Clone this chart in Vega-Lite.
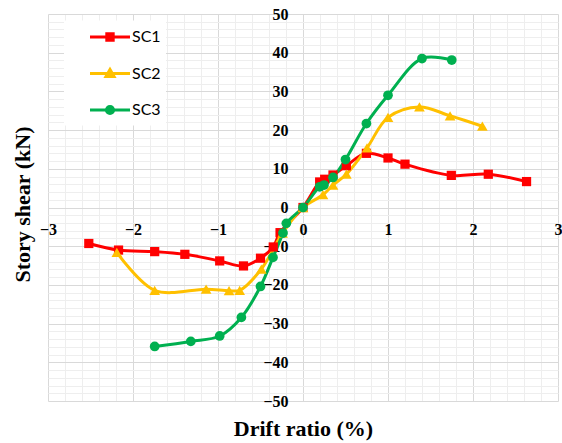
{
  "$schema": "https://vega.github.io/schema/vega-lite/v6.json",
  "width": 510,
  "height": 387,
  "autosize": {"type": "none"},
  "padding": {"left": 48, "top": 14, "right": 4, "bottom": 42},
  "background": "white",
  "config": {"view": {"stroke": null}},
  "data": {
    "values": [
      {"series": "SC1", "drift": -2.52, "shear": -9.3},
      {"series": "SC1", "drift": -2.17, "shear": -11.0},
      {"series": "SC1", "drift": -1.745, "shear": -11.4},
      {"series": "SC1", "drift": -1.39, "shear": -12.1},
      {"series": "SC1", "drift": -0.98, "shear": -13.8},
      {"series": "SC1", "drift": -0.7, "shear": -15.1},
      {"series": "SC1", "drift": -0.5, "shear": -13.1},
      {"series": "SC1", "drift": -0.35, "shear": -10.2},
      {"series": "SC1", "drift": -0.27, "shear": -6.5},
      {"series": "SC1", "drift": 0, "shear": 0},
      {"series": "SC1", "drift": 0.196, "shear": 6.6},
      {"series": "SC1", "drift": 0.255, "shear": 7.3},
      {"series": "SC1", "drift": 0.353, "shear": 8.4},
      {"series": "SC1", "drift": 0.51, "shear": 10.8},
      {"series": "SC1", "drift": 0.746, "shear": 14.0},
      {"series": "SC1", "drift": 1.0, "shear": 12.8},
      {"series": "SC1", "drift": 1.2, "shear": 11.2},
      {"series": "SC1", "drift": 1.745, "shear": 8.3},
      {"series": "SC1", "drift": 2.18, "shear": 8.6},
      {"series": "SC1", "drift": 2.63, "shear": 6.7},
      {"series": "SC2", "drift": -2.19, "shear": -11.6},
      {"series": "SC2", "drift": -1.745, "shear": -21.4},
      {"series": "SC2", "drift": -1.14, "shear": -21.1},
      {"series": "SC2", "drift": -0.87, "shear": -21.5},
      {"series": "SC2", "drift": -0.745, "shear": -21.4},
      {"series": "SC2", "drift": -0.49, "shear": -15.9},
      {"series": "SC2", "drift": -0.24, "shear": -6.6},
      {"series": "SC2", "drift": 0, "shear": 0},
      {"series": "SC2", "drift": 0.235, "shear": 3.3},
      {"series": "SC2", "drift": 0.353, "shear": 5.8},
      {"series": "SC2", "drift": 0.51, "shear": 8.6},
      {"series": "SC2", "drift": 0.753, "shear": 15.4},
      {"series": "SC2", "drift": 1.0, "shear": 23.3},
      {"series": "SC2", "drift": 1.37, "shear": 26.0},
      {"series": "SC2", "drift": 1.73, "shear": 23.7},
      {"series": "SC2", "drift": 2.11, "shear": 21.0},
      {"series": "SC3", "drift": -1.745, "shear": -35.9},
      {"series": "SC3", "drift": -1.32, "shear": -34.6},
      {"series": "SC3", "drift": -0.98, "shear": -33.2},
      {"series": "SC3", "drift": -0.725, "shear": -28.4},
      {"series": "SC3", "drift": -0.5, "shear": -20.4},
      {"series": "SC3", "drift": -0.353, "shear": -12.9},
      {"series": "SC3", "drift": -0.235, "shear": -6.6},
      {"series": "SC3", "drift": -0.196, "shear": -4.1},
      {"series": "SC3", "drift": 0, "shear": 0},
      {"series": "SC3", "drift": 0.196, "shear": 5.35},
      {"series": "SC3", "drift": 0.247, "shear": 5.8},
      {"series": "SC3", "drift": 0.353, "shear": 7.76},
      {"series": "SC3", "drift": 0.5, "shear": 12.4},
      {"series": "SC3", "drift": 0.746, "shear": 21.7},
      {"series": "SC3", "drift": 1.0, "shear": 29.0},
      {"series": "SC3", "drift": 1.4, "shear": 38.5},
      {"series": "SC3", "drift": 1.75, "shear": 38.1}
    ]
  },
  "layer": [
    {
      "mark": {"type": "line", "interpolate": "catmull-rom", "strokeWidth": 3},
      "encoding": {
        "x": {
          "field": "drift", "type": "quantitative",
          "scale": {"domain": [-3, 3], "nice": false, "zero": false},
          "axis": {
            "orient": "bottom",
            "values": [-2.8, -2.6, -2.4, -2.2, -1.8, -1.6, -1.4, -1.2, -0.8, -0.6, -0.4, -0.2, 0.2, 0.4, 0.6, 0.8, 1.2, 1.4, 1.6, 1.8, 2.2, 2.4, 2.6, 2.8],
            "grid": true, "gridColor": "#eeeeee", "gridWidth": 1,
            "labels": false, "ticks": false, "domain": false, "title": null
          }
        },
        "y": {
          "field": "shear", "type": "quantitative",
          "scale": {"domain": [-50, 50], "nice": false, "zero": false},
          "axis": {
            "orient": "left",
            "values": [-48, -46, -44, -42, -38, -36, -34, -32, -28, -26, -24, -22, -18, -16, -14, -12, -8, -6, -4, -2, 2, 4, 6, 8, 12, 14, 16, 18, 22, 24, 26, 28, 32, 34, 36, 38, 42, 44, 46, 48],
            "grid": true, "gridColor": "#eeeeee", "gridWidth": 1,
            "labels": false, "ticks": false, "domain": false, "title": null
          }
        },
        "color": {
          "field": "series", "type": "nominal",
          "scale": {"domain": ["SC3", "SC1", "SC2"], "range": ["#00B050", "#FF0000", "#FFC000"]},
          "legend": null
        }
      }
    },
    {
      "mark": {"type": "point", "filled": true, "opacity": 1, "strokeWidth": 0, "shape": "square", "size": 85},
      "transform": [{"filter": "datum.series === 'SC1'"}],
      "encoding": {
        "x": {
          "field": "drift", "type": "quantitative",
          "axis": {
            "orient": "bottom", "offset": -193.5,
            "values": [-3, -2, -1, 0, 1, 2, 3],
            "grid": true, "gridColor": "#d9d9d9", "gridWidth": 1,
            "domain": false, "ticks": false,
            "labelFont": "Liberation Serif", "labelFontWeight": "bold", "labelFontSize": 16, "labelColor": "black",
            "labelPadding": 14, "labelFlush": false, "labelOverlap": false,
            "title": "Drift ratio (%)",
            "titleFont": "Liberation Serif", "titleFontWeight": "bold", "titleFontSize": 22, "titleColor": "black",
            "titleY": 220.5, "titleBaseline": "middle"
          }
        },
        "y": {
          "field": "shear", "type": "quantitative",
          "axis": {
            "orient": "left", "offset": -255,
            "values": [-50, -40, -30, -20, -10, 0, 10, 20, 30, 40, 50],
            "grid": true, "gridColor": "#d9d9d9", "gridWidth": 1,
            "domain": false, "ticks": false,
            "labelFont": "Liberation Serif", "labelFontWeight": "bold", "labelFontSize": 16, "labelColor": "black",
            "labelPadding": 15, "labelFlush": false, "labelOverlap": false,
            "title": "Story shear (kN)",
            "titleFont": "Liberation Serif", "titleFontWeight": "bold", "titleFontSize": 22, "titleColor": "black",
            "titleX": -281, "titleY": 190, "titleAngle": -90, "titleBaseline": "middle"
          }
        },
        "color": {"field": "series", "type": "nominal", "legend": null}
      }
    },
    {
      "mark": {"type": "point", "filled": true, "opacity": 1, "strokeWidth": 0, "shape": "triangle-up", "size": 115},
      "transform": [{"filter": "datum.series === 'SC2'"}],
      "encoding": {
        "x": {"field": "drift", "type": "quantitative", "axis": null},
        "y": {"field": "shear", "type": "quantitative", "axis": null},
        "color": {"field": "series", "type": "nominal", "legend": null}
      }
    },
    {
      "mark": {"type": "point", "filled": true, "opacity": 1, "strokeWidth": 0, "shape": "circle", "size": 95},
      "transform": [{"filter": "datum.series === 'SC3'"}],
      "encoding": {
        "x": {"field": "drift", "type": "quantitative", "axis": null},
        "y": {"field": "shear", "type": "quantitative", "axis": null},
        "color": {"field": "series", "type": "nominal", "legend": null}
      }
    },
    {
      "mark": {"type": "point", "filled": true, "opacity": 1, "size": 400, "strokeWidth": 3},
      "transform": [{"filter": "datum.drift > 100"}],
      "encoding": {
        "x": {"field": "drift", "type": "quantitative", "axis": null},
        "y": {"field": "shear", "type": "quantitative", "axis": null},
        "fill": {
          "field": "series", "type": "nominal",
          "scale": {"domain": ["SC1", "SC2", "SC3"], "range": ["#FF0000", "#FFC000", "#00B050"]},
          "legend": {
            "orient": "none", "legendX": 16, "legendY": 6.5,
            "title": null, "fillColor": "white", "padding": 5,
            "symbolOffset": 29.5, "rowPadding": 15.5, "symbolSize": 400, "symbolStrokeWidth": 3, "symbolOpacity": 1,
            "labelFont": "Lato", "labelFontSize": 16, "labelColor": "black", "labelOffset": 10.5,
            "labelExpr": "datum.label + '\u00a0\u00a0\u00a0\u00a0\u00a0\u00a0'"
          }
        },
        "stroke": {
          "field": "series", "type": "nominal",
          "scale": {"domain": ["SC1", "SC2", "SC3"], "range": ["#FF0000", "#FFC000", "#00B050"]},
          "legend": {
            "orient": "none", "legendX": 16, "legendY": 6.5,
            "title": null, "fillColor": "white", "padding": 5,
            "symbolOffset": 29.5, "rowPadding": 15.5, "symbolSize": 400, "symbolStrokeWidth": 3, "symbolOpacity": 1,
            "labelFont": "Lato", "labelFontSize": 16, "labelColor": "black", "labelOffset": 10.5,
            "labelExpr": "datum.label + '\u00a0\u00a0\u00a0\u00a0\u00a0\u00a0'"
          }
        },
        "shape": {
          "field": "series", "type": "nominal",
          "scale": {
            "domain": ["SC1", "SC2", "SC3"],
            "range": [
              "M-2,0H2M-0.32,-0.32H0.32V0.32H-0.32Z",
              "M-2,0H2M0,-0.4L0.4,0.3H-0.4Z",
              "M-2,0H2M-0.36,0A0.36,0.36 0 1,0 0.36,0A0.36,0.36 0 1,0 -0.36,0Z"
            ]
          },
          "legend": {
            "orient": "none", "legendX": 16, "legendY": 6.5,
            "title": null, "fillColor": "white", "padding": 5,
            "symbolOffset": 29.5, "rowPadding": 15.5, "symbolSize": 400, "symbolStrokeWidth": 3, "symbolOpacity": 1,
            "labelFont": "Lato", "labelFontSize": 16, "labelColor": "black", "labelOffset": 10.5,
            "labelExpr": "datum.label + '\u00a0\u00a0\u00a0\u00a0\u00a0\u00a0'"
          }
        }
      }
    }
  ],
  "resolve": {
    "axis": {"x": "independent", "y": "independent"}
  }
}
